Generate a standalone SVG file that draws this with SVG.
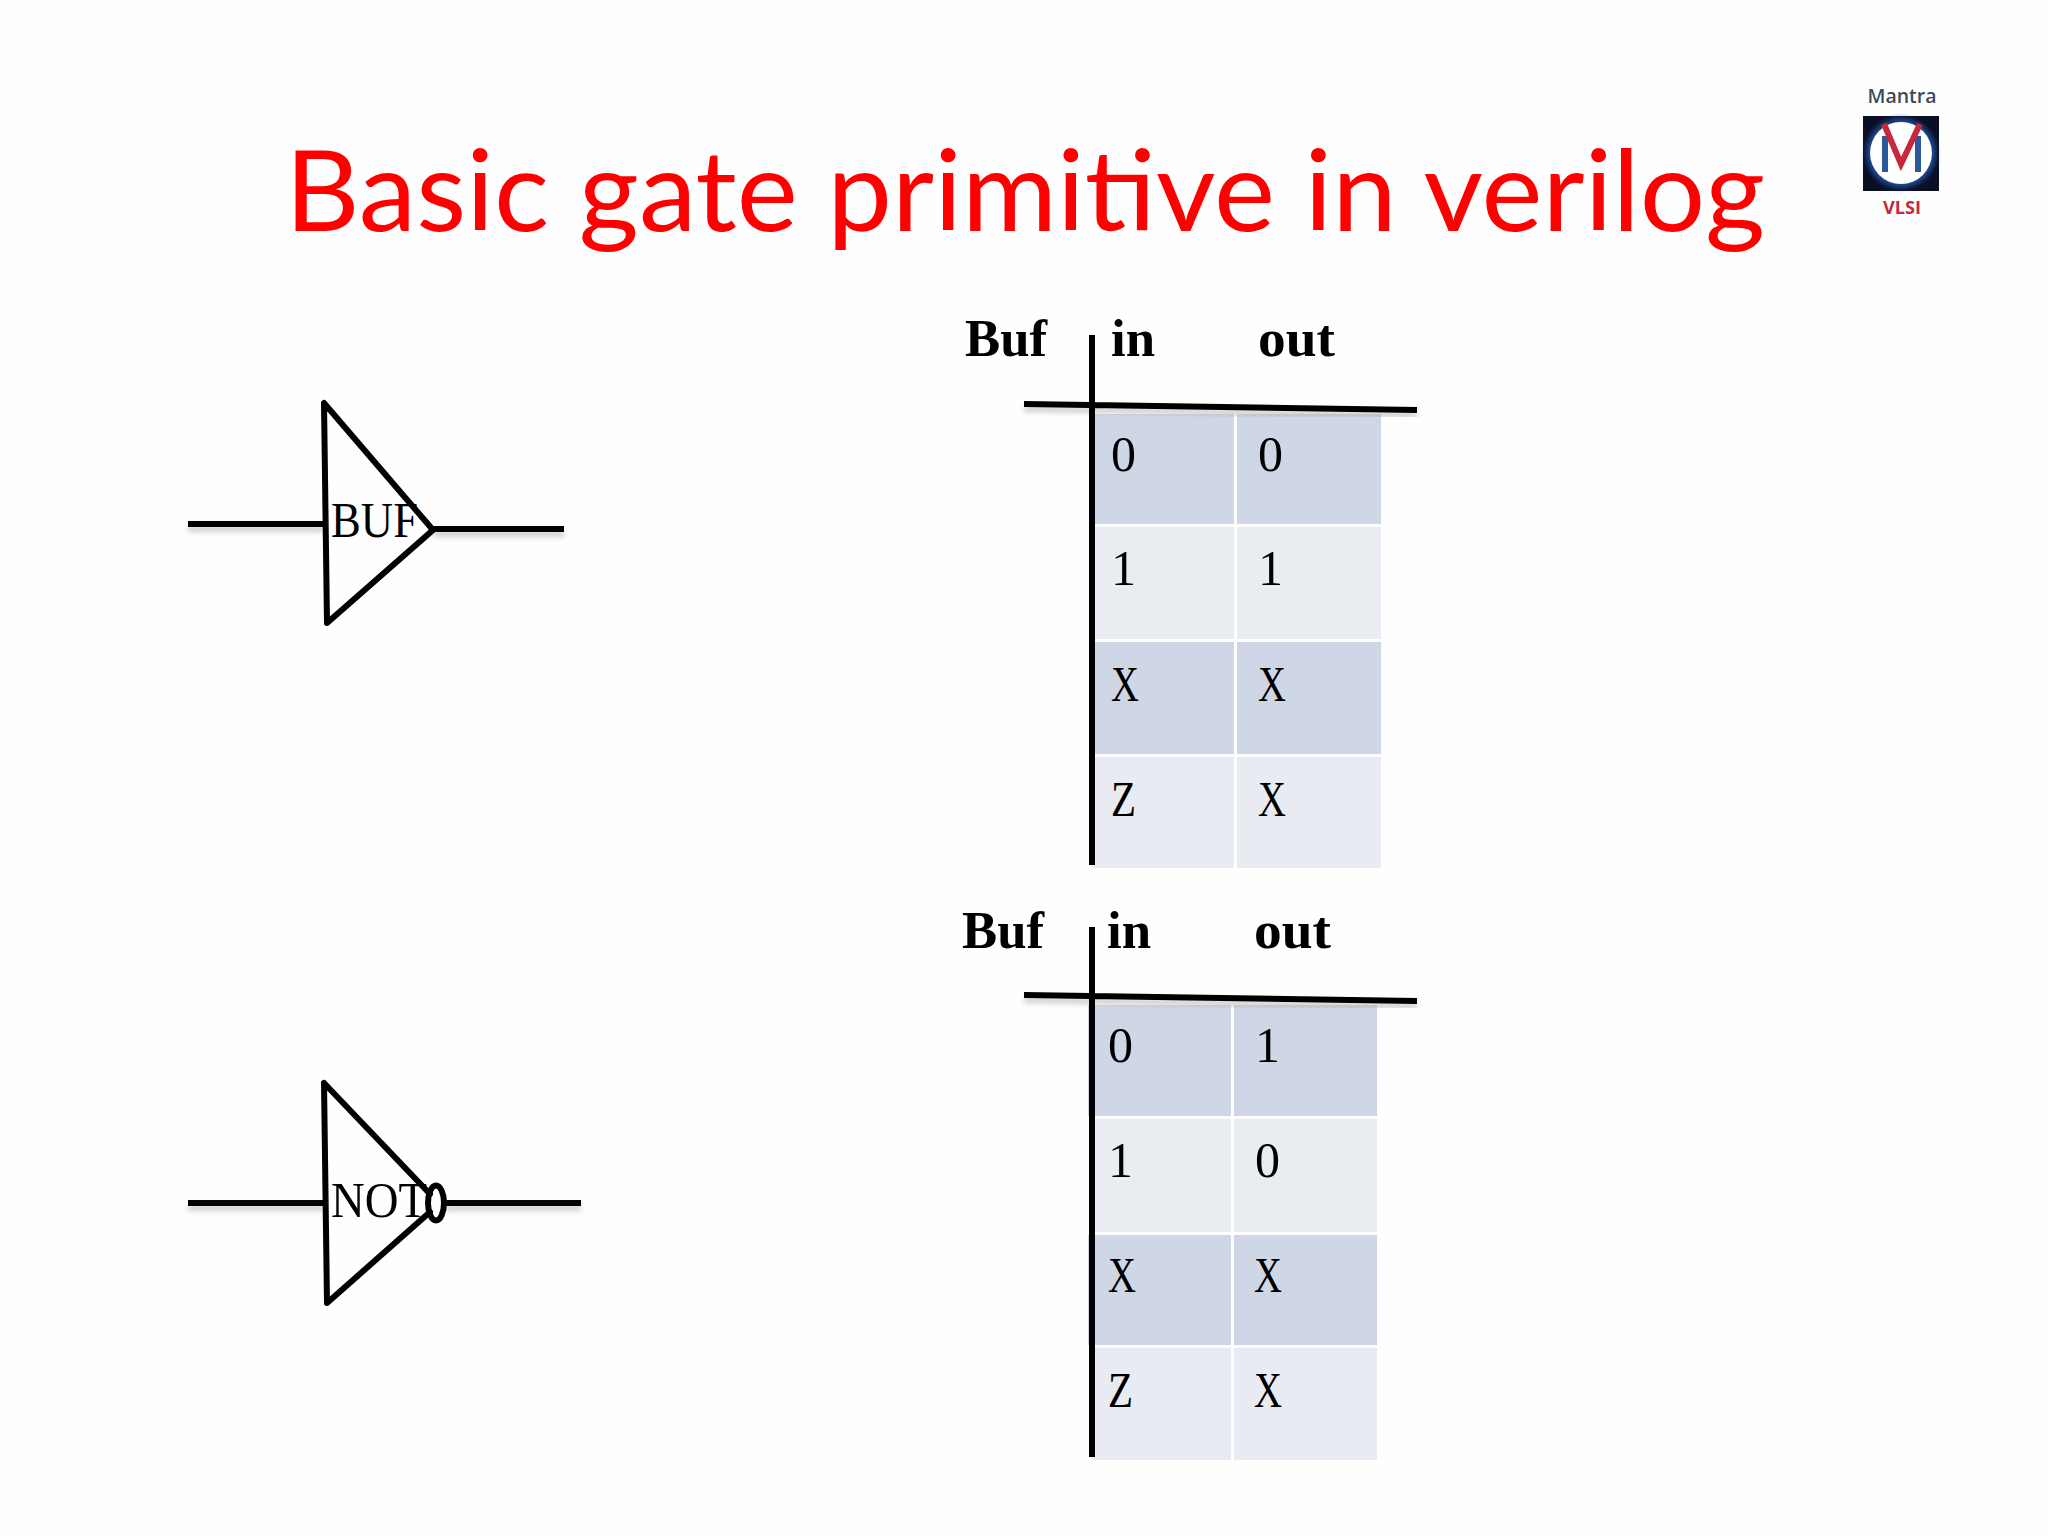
<svg xmlns="http://www.w3.org/2000/svg" width="2048" height="1536" viewBox="0 0 2048 1536">
<defs>
<filter id="sh" x="-10%" y="-10%" width="120%" height="120%" filterUnits="objectBoundingBox" primitiveUnits="userSpaceOnUse"><feDropShadow dx="0" dy="5" stdDeviation="2" flood-color="#888" flood-opacity="0.45"/></filter>
<filter id="blur" x="-20%" y="-20%" width="140%" height="140%"><feGaussianBlur stdDeviation="2.5"/></filter>
</defs>
<style>
.gate{fill:none;stroke:#000;stroke-width:6;stroke-linejoin:round;stroke-linecap:round}
.wire{stroke:#000;stroke-width:6;fill:none}
.shw{stroke:#aaa;stroke-width:6;opacity:.55;fill:none}
.d{fill:#cfd7e7}.l{fill:#e9edf2}.m{fill:#e9ebf2}
.t{font-family:"Liberation Serif",serif;font-size:50px;fill:#000}
.b{font-family:"Liberation Serif",serif;font-size:52px;font-weight:bold;fill:#000}
.g{font-family:"Liberation Serif",serif;font-size:50px;fill:#000}
</style>
<rect width="2048" height="1536" fill="#fefefe"/>
<text id="title" x="285" y="231" font-family="Lato, sans-serif" font-size="113" fill="#ff0000" textLength="1480" lengthAdjust="spacingAndGlyphs">Basic gate primitive in verilog</text>
<g id="logo">
<text x="1902" y="103" text-anchor="middle" font-family="'Open Sans',sans-serif" font-size="19" font-weight="600" fill="#3c4a5e" textLength="69" lengthAdjust="spacingAndGlyphs">Mantra</text>
<rect x="1863" y="116" width="76" height="75" fill="#0a0f24"/>
<circle cx="1901" cy="153" r="35" fill="#1f4a90" filter="url(#blur)"/>
<circle cx="1901" cy="153" r="31" fill="#fff"/>
<path d="M1885 172V136M1918 172V136" stroke="#2a5a9c" stroke-width="6" fill="none"/>
<path d="M1884 124L1901 164L1920 124" stroke="#c8283c" stroke-width="6" fill="none"/>
<text x="1902" y="214" text-anchor="middle" font-family="'Open Sans',sans-serif" font-size="18" font-weight="700" fill="#c8283c" textLength="38" lengthAdjust="spacingAndGlyphs">VLSI</text>
</g>
<g id="connectors">
<path class="shw" filter="url(#blur)" d="M188 529H324M433 534H564M188 1208H324M446 1208H581"/>
<path class="wire" d="M188 524H324M433 529H564M188 1203H324M446 1203H581"/>
</g>
<g id="buf-gate">
<path class="gate" d="M324 403L327 623L433 530Z"/>
<text class="g" x="331" y="537" textLength="87" lengthAdjust="spacingAndGlyphs">BUF</text>
</g>
<g id="not-gate">
<path class="gate" d="M324 1083L327 1303L430 1212M430 1194L324 1083"/>
<text class="g" x="331" y="1217" textLength="96" lengthAdjust="spacingAndGlyphs">NOT</text>
<ellipse cx="436" cy="1203" rx="8" ry="17.500" fill="none" stroke="#000" stroke-width="6"/>
</g>
<g id="table-buf">
<rect class="d" x="1092" y="414" width="142" height="110"/><rect class="d" x="1237" y="414" width="144" height="110"/>
<rect class="l" x="1092" y="527" width="142" height="112"/><rect class="l" x="1237" y="527" width="144" height="112"/>
<rect class="d" x="1092" y="642" width="142" height="112"/><rect class="d" x="1237" y="642" width="144" height="112"/>
<rect class="m" x="1092" y="757" width="142" height="111"/><rect class="m" x="1237" y="757" width="144" height="111"/>
<path class="shw" filter="url(#blur)" d="M1024 409L1417 415"/>
<path class="wire" d="M1092 335V865M1024 404L1417 410"/>
<text class="b" x="965" y="356" textLength="82" lengthAdjust="spacingAndGlyphs">Buf</text>
<text class="b" x="1111" y="356" textLength="44" lengthAdjust="spacingAndGlyphs">in</text>
<text class="b" x="1258" y="356" textLength="77" lengthAdjust="spacingAndGlyphs">out</text>
<text class="t" x="1111" y="471">0</text><text class="t" x="1258" y="471">0</text>
<text class="t" x="1111" y="585">1</text><text class="t" x="1258" y="585">1</text>
<text class="t" x="1111" y="701" textLength="28" lengthAdjust="spacingAndGlyphs">X</text><text class="t" x="1258" y="701" textLength="28" lengthAdjust="spacingAndGlyphs">X</text>
<text class="t" x="1111" y="816" textLength="25" lengthAdjust="spacingAndGlyphs">Z</text><text class="t" x="1258" y="816" textLength="28" lengthAdjust="spacingAndGlyphs">X</text>
</g>
<g id="table-not">
<rect class="d" x="1088" y="1005" width="143" height="111"/><rect class="d" x="1234" y="1005" width="143" height="111"/>
<rect class="l" x="1092" y="1119" width="139" height="113"/><rect class="l" x="1234" y="1119" width="143" height="113"/>
<rect class="d" x="1088" y="1235" width="143" height="110"/><rect class="d" x="1234" y="1235" width="143" height="110"/>
<rect class="m" x="1092" y="1348" width="139" height="112"/><rect class="m" x="1234" y="1348" width="143" height="112"/>
<path class="shw" filter="url(#blur)" d="M1024 1000L1417 1006"/>
<path class="wire" d="M1092 927V1457M1024 995L1417 1001"/>
<text class="b" x="962" y="948" textLength="82" lengthAdjust="spacingAndGlyphs">Buf</text>
<text class="b" x="1107" y="948" textLength="44" lengthAdjust="spacingAndGlyphs">in</text>
<text class="b" x="1254" y="948" textLength="77" lengthAdjust="spacingAndGlyphs">out</text>
<text class="t" x="1108" y="1062">0</text><text class="t" x="1255" y="1062">1</text>
<text class="t" x="1108" y="1177">1</text><text class="t" x="1255" y="1177">0</text>
<text class="t" x="1108" y="1292" textLength="28" lengthAdjust="spacingAndGlyphs">X</text><text class="t" x="1254" y="1292" textLength="28" lengthAdjust="spacingAndGlyphs">X</text>
<text class="t" x="1108" y="1407" textLength="25" lengthAdjust="spacingAndGlyphs">Z</text><text class="t" x="1254" y="1407" textLength="28" lengthAdjust="spacingAndGlyphs">X</text>
</g>
</svg>
